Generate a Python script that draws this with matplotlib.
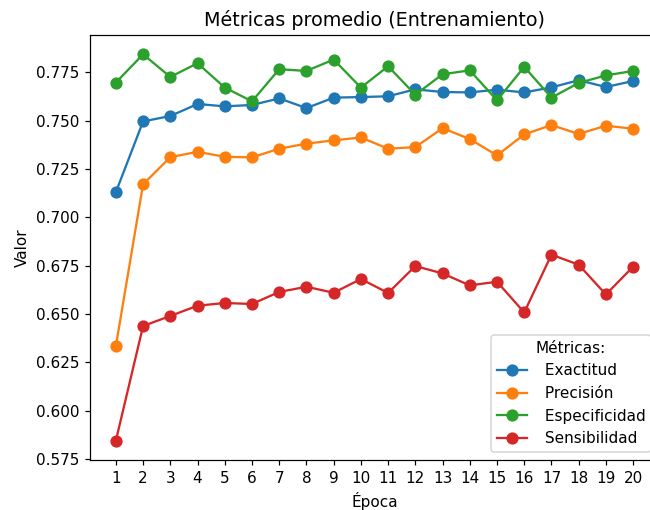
import matplotlib
matplotlib.use("Agg")
import matplotlib.pyplot as plt

epocas = list(range(1, 21))
exactitud = [0.7130, 0.7496, 0.7524, 0.7586, 0.7574, 0.7581, 0.7615, 0.7565, 0.7619, 0.7622,
             0.7626, 0.7662, 0.7648, 0.7646, 0.7660, 0.7646, 0.7672, 0.7709, 0.7674, 0.7705]
precision = [0.6334, 0.7171, 0.7311, 0.7339, 0.7313, 0.7310, 0.7355, 0.7381, 0.7398, 0.7413,
             0.7355, 0.7363, 0.7461, 0.7405, 0.7320, 0.7429, 0.7477, 0.7431, 0.7474, 0.7458]
especificidad = [0.7697, 0.7843, 0.7726, 0.7797, 0.7671, 0.7600, 0.7766, 0.7757, 0.7816, 0.7671,
                 0.7781, 0.7634, 0.7740, 0.7760, 0.7605, 0.7778, 0.7619, 0.7695, 0.7734, 0.7757]
sensibilidad = [0.5845, 0.6438, 0.6490, 0.6543, 0.6557, 0.6552, 0.6614, 0.6641, 0.6610, 0.6681,
                0.6609, 0.6748, 0.6710, 0.6648, 0.6667, 0.6508, 0.6807, 0.6755, 0.6601, 0.6745]
series = [(" Exactitud", exactitud, "#1f77b4"),
          (" Precisión", precision, "#ff7f0e"),
          (" Especificidad", especificidad, "#2ca02c"),
          (" Sensibilidad", sensibilidad, "#d62728")]

DPI = 110
fig = plt.figure(figsize=(650 / DPI, 510 / DPI), dpi=DPI)
ax = fig.add_axes([90/650, 1 - 460/510, (659 - 90)/650, (460 - 35)/510])
for name, vals, color in series:
    ax.plot(epocas, vals, marker="o", markersize=7, linewidth=1.5, color=color, label=name)

ax.set_xticks(epocas)
ax.set_xticklabels([str(e) for e in epocas])
ax.set_title("Métricas promedio (Entrenamiento)", fontsize=12.5)
ax.set_xlabel("Época")
ax.set_ylabel("Valor")
ax.legend(title="Métricas:", loc="lower right")
fig.savefig("out.png", dpi=DPI)
